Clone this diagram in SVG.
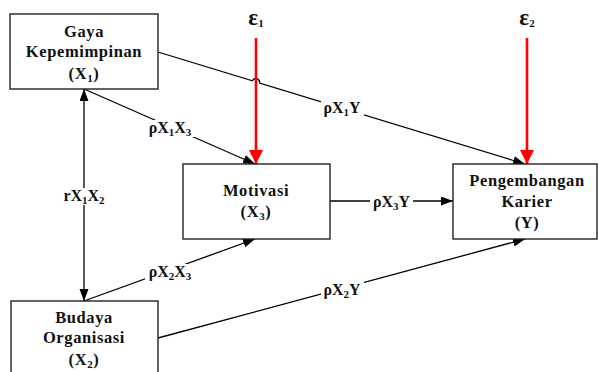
<svg xmlns="http://www.w3.org/2000/svg" width="598" height="372" viewBox="0 0 598 372" font-family="'Liberation Serif', 'Times New Roman', serif">
<defs>
<style>
.box{fill:#fff;stroke:#222;stroke-width:1.4}
.ln{fill:none;stroke:#000;stroke-width:1.3}
.red{fill:none;stroke:#f00;stroke-width:2.6}
.t{font-weight:bold;font-size:16px;fill:#111;text-anchor:middle}
.nt{letter-spacing:0.6px;font-size:16.5px}
.bg{fill:#fff}
</style>
<marker id="ah" markerUnits="userSpaceOnUse" markerWidth="13" markerHeight="10" refX="12" refY="4.5" orient="auto-start-reverse">
<path d="M0,0 L12,4.5 L0,9 Z" fill="#000"/>
</marker>
<marker id="rh" markerUnits="userSpaceOnUse" markerWidth="15" markerHeight="15" refX="14" refY="7" orient="auto">
<path d="M0,0 L14,7 L0,14 Z" fill="#f00"/>
</marker>
</defs>

<g id="connectors">
<path class="ln" d="M158,52 L252.4,80.8 A3.8,3.8 0 0 1 259.6,83 L525,164" marker-end="url(#ah)"/>
<line class="ln" x1="84" y1="89" x2="255" y2="164" marker-end="url(#ah)"/>
<line class="ln" x1="84" y1="301" x2="255" y2="239" marker-end="url(#ah)"/>
<line class="ln" x1="84" y1="89" x2="84" y2="301" marker-start="url(#ah)" marker-end="url(#ah)"/>
<line class="ln" x1="330" y1="201" x2="453" y2="201" marker-end="url(#ah)"/>
<line class="ln" x1="158" y1="338" x2="525" y2="239" marker-end="url(#ah)"/>
<line class="red" x1="256" y1="38" x2="256" y2="164" marker-end="url(#rh)"/>
<line class="red" x1="527" y1="38" x2="527" y2="164" marker-end="url(#rh)"/>
<g id="labels">
<rect class="bg" x="321" y="100" width="43" height="17"/>
<text class="t" x="342" y="113">ρX<tspan font-size="11" dy="3">1</tspan><tspan dy="-3">Y</tspan></text>
<rect class="bg" x="145" y="120" width="51" height="17"/>
<text class="t" x="170" y="133">ρX<tspan font-size="11" dy="3">1</tspan><tspan dy="-3">X</tspan><tspan font-size="11" dy="3">3</tspan></text>
<rect class="bg" x="61" y="188" width="47" height="17"/>
<text class="t" x="84" y="201">rX<tspan font-size="11" dy="3">1</tspan><tspan dy="-3">X</tspan><tspan font-size="11" dy="3">2</tspan></text>
<rect class="bg" x="370" y="193" width="43" height="17"/>
<text class="t" x="391.5" y="207">ρX<tspan font-size="11" dy="3">3</tspan><tspan dy="-3">Y</tspan></text>
<rect class="bg" x="145" y="264" width="51" height="17"/>
<text class="t" x="170" y="277">ρX<tspan font-size="11" dy="3">2</tspan><tspan dy="-3">X</tspan><tspan font-size="11" dy="3">3</tspan></text>
<rect class="bg" x="321" y="282" width="43" height="17"/>
<text class="t" x="342" y="295">ρX<tspan font-size="11" dy="3">2</tspan><tspan dy="-3">Y</tspan></text>
</g>
</g>

<g id="e1">
<text class="t" x="256" y="25"><tspan font-size="23">ε</tspan><tspan font-size="11" dy="2">1</tspan></text>
</g>
<g id="e2">
<text class="t" x="527" y="25"><tspan font-size="23">ε</tspan><tspan font-size="11" dy="2">2</tspan></text>
</g>

<g id="gaya">
<rect class="box" x="10" y="14" width="148" height="75"/>
<text class="t nt" x="84" y="37">Gaya</text>
<text class="t nt" x="84" y="57">Kepemimpinan</text>
<text class="t nt" x="84" y="79">(X<tspan font-size="11" dy="3">1</tspan><tspan dy="-3">)</tspan></text>
</g>

<g id="budaya">
<rect class="box" x="11" y="301" width="147" height="80"/>
<text class="t nt" x="84" y="323">Budaya</text>
<text class="t nt" x="84" y="343">Organisasi</text>
<text class="t nt" x="84" y="365">(X<tspan font-size="11" dy="3">2</tspan><tspan dy="-3">)</tspan></text>
</g>

<g id="motivasi">
<rect class="box" x="183" y="164" width="147" height="75"/>
<text class="t nt" x="256" y="196">Motivasi</text>
<text class="t nt" x="256" y="217">(X<tspan font-size="11" dy="3">3</tspan><tspan dy="-3">)</tspan></text>
</g>

<g id="karier">
<rect class="box" x="453" y="164" width="144" height="75"/>
<text class="t nt" x="527" y="186">Pengembangan</text>
<text class="t nt" x="527" y="207">Karier</text>
<text class="t nt" x="527" y="228">(Y)</text>
</g>
</svg>
